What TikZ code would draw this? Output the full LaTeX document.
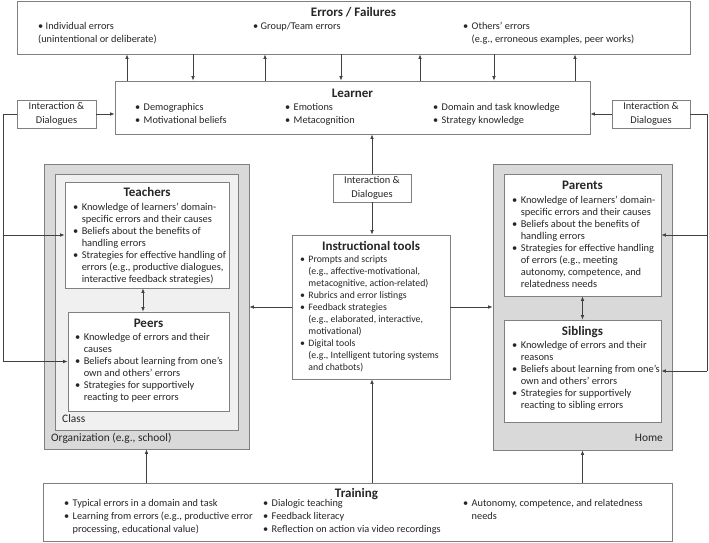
\documentclass[tikz,border=0pt]{standalone}
\usepackage{fontspec}
\setmainfont{Carlito}
\usetikzlibrary{arrows.meta}
\definecolor{txt}{HTML}{262626}
\definecolor{edge}{HTML}{808080}
\definecolor{lnk}{HTML}{404040}
\definecolor{outerfill}{HTML}{D9D9D9}
\definecolor{innerfill}{HTML}{F0F0F0}
\newcommand\blist[1]{{\renewcommand\arraystretch{1}\begin{tabular}[t]{@{}l@{\hspace{3.4pt}}l@{}}#1\end{tabular}}}
\newcommand\bu{\textbullet}
\tikzset{
  box/.style={draw=edge, line width=0.8pt, fill=white, inner sep=0pt, rectangle},
  arr/.style={draw=lnk, line width=0.7pt, -{Latex[length=4.5pt,width=3.6pt]}},
  dbl/.style={draw=lnk, line width=0.7pt, {Latex[length=4.5pt,width=3.6pt]}-{Latex[length=4.5pt,width=3.6pt]}},
  plain/.style={draw=lnk, line width=0.7pt},
  body/.style={inner sep=0pt, text=txt, font=\fontsize{9.8}{12}\selectfont, anchor=base west},
  bodyb/.style={inner sep=0pt, text=txt, font=\fontsize{10.4}{12}\selectfont, anchor=base west},
  bodyw/.style={inner sep=0pt, text=txt, font=\fontsize{10.3}{13}\selectfont, anchor=base west},
  lab/.style={inner sep=0pt, text=txt, font=\fontsize{11.4}{13}\selectfont, anchor=base west},
  ttl/.style={inner sep=0pt, text=txt, font=\fontsize{13}{15}\selectfont\bfseries, anchor=center},
  idbox/.style={box, align=center, text=txt, font=\fontsize{10.4}{13.5}\selectfont, minimum height=28pt}
}
\begin{document}
\begin{tikzpicture}[x=1pt,y=-1pt]
\useasboundingbox (0,0) rectangle (709,543);
% ---- boxes ----
\node[box, minimum width=673pt, minimum height=53pt] (errors) at (353.5,27.5) {};
\node[box, minimum width=475pt, minimum height=53pt] (learner) at (352.5,107.5) {};
\node[idbox, minimum width=79pt] (idL) at (56.5,114) {Interaction \&\\Dialogues};
\node[idbox, minimum width=78pt] (idR) at (651,114) {Interaction \&\\Dialogues};
\node[idbox, minimum width=78pt] (idC) at (372,188) {Interaction \&\\Dialogues};
\node[box, fill=outerfill, minimum width=205pt, minimum height=285pt] (org) at (146.5,306.5) {};
\node[box, fill=innerfill, minimum width=183pt, minimum height=256pt] (class) at (146.5,302) {};
\node[box, minimum width=164pt, minimum height=106pt] (teachers) at (147,235) {};
\node[box, minimum width=161pt, minimum height=99pt] (peers) at (148.5,361.5) {};
\node[box, fill=outerfill, minimum width=179pt, minimum height=286pt] (home) at (582.5,307) {};
\node[box, minimum width=157pt, minimum height=122pt] (parents) at (582.5,235) {};
\node[box, minimum width=157pt, minimum height=102pt] (siblings) at (582.5,371) {};
\node[box, minimum width=158pt, minimum height=144pt] (instr) at (371,307) {};
\node[box, minimum width=629pt, minimum height=58pt] (training) at (357.5,512) {};
% ---- texts: errors ----
\node[ttl] (tErr) at (353.5,12) {Errors / Failures};
\node[bodyw] (e1) at (38,29.5) {{\renewcommand\arraystretch{1.0}\begin{tabular}[t]{@{}l@{}}\bu\ Individual errors\\(unintentional or deliberate)\end{tabular}}};
\node[bodyw] (e2) at (253,29.5) {\bu\ Group/Team errors};
\node[bodyw] (e3) at (463,29.5) {{\renewcommand\arraystretch{1.0}\begin{tabular}[t]{@{}l@{\hspace{3.4pt}}l@{}}\bu & Others’ errors\\ & (e.g., erroneous examples, peer works)\end{tabular}}};
% ---- learner ----
\node[ttl] (tLea) at (352.5,93) {Learner};
\node[bodyw] (l1) at (135,110.5) {\blist{\bu & Demographics\\ \bu & Motivational beliefs}};
\node[bodyw] (l2) at (285,110.5) {\blist{\bu & Emotions\\ \bu & Metacognition}};
\node[bodyw] (l3) at (433,110.5) {\blist{\bu & Domain and task knowledge\\ \bu & Strategy knowledge}};
% ---- teachers ----
\node[ttl] (tTea) at (147,192) {Teachers};
\node[bodyb] (te) at (73,210.5) {\blist{\bu & Knowledge of learners’ domain-\\ & specific errors and their causes\\ \bu & Beliefs about the benefits of\\ & handling errors\\ \bu & Strategies for effective handling of\\ & errors (e.g., productive dialogues,\\ & interactive feedback strategies)}};
% ---- peers ----
\node[ttl] (tPee) at (148.5,323) {Peers};
\node[bodyb] (pe) at (75,340.5) {\blist{\bu & Knowledge of errors and their\\ & causes\\ \bu & Beliefs about learning from one’s\\ & own and others’ errors\\ \bu & Strategies for supportively\\ & reacting to peer errors}};
\node[lab] (tCla) at (62,422.5) {Class};
\node[lab] (tOrg) at (51,441.5) {Organization (e.g., school)};
% ---- parents ----
\node[ttl] (tPar) at (582.5,185) {Parents};
\node[bodyb] (pa) at (512,203.5) {\blist{\bu & Knowledge of learners’ domain-\\ & specific errors and their causes\\ \bu & Beliefs about the benefits of\\ & handling errors\\ \bu & Strategies for effective handling\\ & of errors (e.g., meeting\\ & autonomy, competence, and\\ & relatedness needs}};
% ---- siblings ----
\node[ttl] (tSib) at (582.5,332) {Siblings};
\node[bodyb] (si) at (512,348.5) {\blist{\bu & Knowledge of errors and their\\ & reasons\\ \bu & Beliefs about learning from one’s\\ & own and others’ errors\\ \bu & Strategies for supportively\\ & reacting to sibling errors}};
\node[lab, anchor=base east] (tHom) at (663,441.5) {Home};
% ---- instructional tools ----
\node[ttl] (tIns) at (371,246) {Instructional tools};
\node[body] (in) at (300,262.5) {\blist{\bu & Prompts and scripts\\ & (e.g., affective-motivational,\\ & metacognitive, action-related)\\ \bu & Rubrics and error listings\\ \bu & Feedback strategies\\ & (e.g., elaborated, interactive,\\ & motivational)\\ \bu & Digital tools\\ & (e.g., Intelligent tutoring systems\\ & and chatbots)}};
% ---- training ----
\node[ttl] (tTra) at (356.5,494) {Training};
\node[bodyw] (tr1) at (64,506.5) {{\renewcommand\arraystretch{1.0}\begin{tabular}[t]{@{}l@{\hspace{3.4pt}}l@{}}\bu & Typical errors in a domain and task\\ \bu & Learning from errors (e.g., productive error\\ & processing, educational value)\end{tabular}}};
\node[bodyw] (tr2) at (263,506.5) {{\renewcommand\arraystretch{1.0}\begin{tabular}[t]{@{}l@{\hspace{3.4pt}}l@{}}\bu & Dialogic teaching\\ \bu & Feedback literacy\\ \bu & Reflection on action via video recordings\end{tabular}}};
\node[bodyw] (tr3) at (463,506.5) {{\renewcommand\arraystretch{1.0}\begin{tabular}[t]{@{}l@{\hspace{3.4pt}}l@{}}\bu & Autonomy, competence, and relatedness\\ & needs\end{tabular}}};
% ---- helper coordinates ----
\coordinate (xa) at (127,0);
\coordinate (xb) at (193,0);
\coordinate (xc) at (265,0);
\coordinate (xd) at (341,0);
\coordinate (xe) at (420,0);
\coordinate (xf) at (494,0);
\coordinate (xg) at (575,0);
\coordinate (xl) at (3,0);
\coordinate (xr) at (707,0);
\coordinate (xt) at (143,0);
% ---- connectors ----
\draw[arr] (learner.north -| xa) -- (errors.south -| xa);
\draw[arr] (errors.south -| xb) -- (learner.north -| xb);
\draw[arr] (learner.north -| xc) -- (errors.south -| xc);
\draw[arr] (errors.south -| xd) -- (learner.north -| xd);
\draw[arr] (learner.north -| xe) -- (errors.south -| xe);
\draw[arr] (errors.south -| xf) -- (learner.north -| xf);
\draw[arr] (learner.north -| xg) -- (errors.south -| xg);
\draw[arr] (idL.east) -- (learner.west |- idL.east);
\draw[arr] (idR.west) -- (learner.east |- idR.west);
\draw[plain] (idL.west) -| (xl |- peers.west);
\draw[arr] (xl |- teachers.west) -- (teachers.west);
\draw[arr] (xl |- peers.west) -- (peers.west);
\draw[plain] (idR.east) -| (xr |- siblings.east);
\draw[arr] (xr |- parents.east) -- (parents.east);
\draw[arr] (xr |- siblings.east) -- (siblings.east);
\draw[arr] (idC.north) -- (learner.south -| idC.north);
\draw[arr] (idC.south) -- (instr.north -| idC.south);
\draw[arr] (instr.west) -- (org.east |- instr.west);
\draw[arr] (instr.east) -- (home.west |- instr.east);
\draw[dbl] (teachers.south -| xt) -- (peers.north -| xt);
\draw[dbl] (parents.south) -- (siblings.north);
\draw[arr] (training.north -| org.south) -- (org.south);
\draw[arr] (training.north -| home.south) -- (home.south);
\draw[arr] (training.north -| idC.south) -- (instr.south -| idC.south);
\end{tikzpicture}
\end{document}
